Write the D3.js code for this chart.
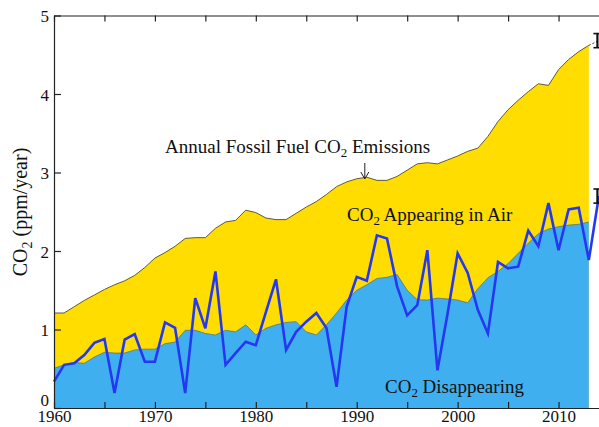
<!DOCTYPE html>
<html>
<head>
<meta charset="utf-8">
<script src="https://cdn.jsdelivr.net/npm/d3@7"></script>
<style>
  body { margin: 0; background: #fff; }
  svg text { font-family: "Liberation Serif", "Times New Roman", serif; fill: #111; }
</style>
</head>
<body>
<svg id="svg"></svg>
<script>
// years of the record
var years = [1960, 1961, 1962, 1963, 1964, 1965, 1966, 1967, 1968, 1969,
             1970, 1971, 1972, 1973, 1974, 1975, 1976, 1977, 1978, 1979,
             1980, 1981, 1982, 1983, 1984, 1985, 1986, 1987, 1988, 1989,
             1990, 1991, 1992, 1993, 1994, 1995, 1996, 1997, 1998, 1999,
             2000, 2001, 2002, 2003, 2004, 2005, 2006, 2007, 2008, 2009,
             2010, 2011, 2012, 2013, 2014];

// annual fossil fuel emissions (ppm/yr), 1960-2013
var emissions = [1.21, 1.21, 1.29, 1.37, 1.44, 1.51, 1.57, 1.62, 1.69, 1.79,
                 1.91, 1.98, 2.06, 2.16, 2.17, 2.17, 2.29, 2.37, 2.39, 2.52,
                 2.49, 2.42, 2.40, 2.40, 2.48, 2.56, 2.63, 2.72, 2.82, 2.88,
                 2.92, 2.94, 2.90, 2.90, 2.95, 3.03, 3.11, 3.125, 3.11, 3.16,
                 3.21, 3.27, 3.31, 3.46, 3.65, 3.80, 3.92, 4.03, 4.13, 4.11,
                 4.31, 4.44, 4.54, 4.62];

// top of the "disappearing" part (ppm/yr), 1960-2013
var disappearing = [0.505, 0.55, 0.58, 0.57, 0.65, 0.71, 0.70, 0.70, 0.74, 0.75,
                    0.75, 0.82, 0.84, 0.99, 0.99, 0.95, 0.93, 0.99, 0.97, 1.06,
                    0.93, 1.015, 1.06, 1.09, 1.10, 0.97, 0.93, 1.06, 1.21, 1.375,
                    1.50, 1.57, 1.65, 1.665, 1.70, 1.50, 1.38, 1.375, 1.40, 1.39,
                    1.375, 1.34, 1.52, 1.66, 1.74, 1.84, 1.97, 2.10, 2.22, 2.28,
                    2.31, 2.33, 2.34, 2.37];

// annual increase of CO2 in air (ppm/yr), 1960-2014
var appearing = [0.335, 0.55, 0.57, 0.675, 0.83, 0.88, 0.19, 0.87, 0.94, 0.59,
                 0.59, 1.09, 1.02, 0.19, 1.40, 1.015, 1.74, 0.55, 0.70, 0.845,
                 0.80, 1.22, 1.64, 0.74, 0.97, 1.10, 1.21, 1.02, 0.27, 1.29,
                 1.67, 1.62, 2.20, 2.16, 1.55, 1.18, 1.31, 2.01, 0.48, 1.20,
                 1.97, 1.72, 1.25, 0.95, 1.86, 1.78, 1.80, 2.26, 2.06, 2.61,
                 2.01, 2.53, 2.55, 1.885, 2.70];

// 2014 estimates with error bars
var errYears = [2014, 2014];
var errValues = [4.68, 2.70];
var errHalf = [0.09, 0.09];

var xTicks = [1960, 1965, 1970, 1975, 1980, 1985, 1990, 1995, 2000, 2005, 2010, 2015];
var xLabels = [1960, 1970, 1980, 1990, 2000, 2010];
var yTicks = [0, 1, 2, 3, 4, 5];

var W = 599, H = 427;
var margin = {top: 15.5, right: -10, bottom: 19, left: 54};

var svg = d3.select("#svg").attr("width", W).attr("height", H);

var xScale = d3.scaleLinear().domain([1960, 2015]).range([margin.left, W - margin.right]);
var yScale = d3.scaleLinear().domain([0, 5]).range([H - margin.bottom, margin.top]);

var emisData = emissions.map((v, i) => ({year: years[i], v: v}));
var disData = disappearing.map((v, i) => ({year: years[i], v: v}));
var appData = appearing.map((v, i) => ({year: years[i], v: v}));

var area = d3.area()
    .x(d => xScale(d.year))
    .y0(yScale(0))
    .y1(d => yScale(d.v));
var line = d3.line()
    .x(d => xScale(d.year))
    .y(d => yScale(d.v));

// yellow = emissions, blue = disappearing
svg.append("path").datum(emisData)
    .attr("fill", "#ffdd00")
    .attr("d", area);
svg.append("path").datum(emisData)
    .attr("fill", "none").attr("stroke", "#4a4a3a").attr("stroke-width", 0.9)
    .attr("d", line);

svg.append("path").datum(disData)
    .attr("fill", "#40aff0")
    .attr("d", area);
svg.append("path").datum(disData)
    .attr("fill", "none").attr("stroke", "#5a6a6a").attr("stroke-width", 0.7)
    .attr("d", line);

// dashed link from 2013 emissions to the 2014 estimate
svg.append("path")
    .datum([emisData[emisData.length - 1], {year: errYears[0], v: errValues[0]}])
    .attr("fill", "none").attr("stroke", "#222").attr("stroke-width", 0.9)
    .attr("stroke-dasharray", "2,2")
    .attr("d", line);

svg.append("path").datum(appData)
    .attr("fill", "none")
    .attr("stroke", "#2438f2")
    .attr("stroke-width", 2.6)
    .attr("stroke-linejoin", "miter")
    .attr("d", line);

// error bars
var eb = svg.append("g");
errYears.forEach((yr, i) => {
    var x = xScale(yr) - 1.5;
    var y0 = yScale(errValues[i] - errHalf[i]), y1 = yScale(errValues[i] + errHalf[i]);
    eb.append("line").attr("x1", x).attr("x2", x).attr("y1", y0).attr("y2", y1)
        .attr("stroke", "#111").attr("stroke-width", 2.2);
    eb.append("line").attr("x1", x - 4).attr("x2", x + 4).attr("y1", y0).attr("y2", y0)
        .attr("stroke", "#111").attr("stroke-width", 1.6);
    eb.append("line").attr("x1", x - 4).attr("x2", x + 4).attr("y1", y1).attr("y2", y1)
        .attr("stroke", "#111").attr("stroke-width", 1.6);
});

// axes, ticks pointing inward
var xAxisB = svg.append("g")
    .attr("transform", `translate(0, ${yScale(0)})`)
    .call(d3.axisBottom(xScale).tickValues(xTicks).tickSizeInner(-6).tickSizeOuter(0).tickPadding(3)
        .tickFormat(d => xLabels.includes(d) ? d : ""));
var xAxisT = svg.append("g")
    .attr("transform", `translate(0, ${yScale(5)})`)
    .call(d3.axisTop(xScale).tickValues(xTicks).tickSizeInner(-6).tickSizeOuter(0).tickFormat(""));
var yAxis = svg.append("g")
    .attr("transform", `translate(${margin.left}, 0)`)
    .call(d3.axisLeft(yScale).tickValues(yTicks).tickSizeInner(-7).tickSizeOuter(0).tickPadding(5)
        .tickFormat(d3.format("d")));

[xAxisB, xAxisT, yAxis].forEach(a => {
    a.selectAll("path, line").attr("stroke", "#222").attr("stroke-width", 1.2);
    a.selectAll("text").attr("font-size", 17).attr("font-family", "Liberation Serif").attr("fill", "#111");
});
xAxisB.selectAll("text").attr("dy", "0.66em");
yAxis.selectAll("text").attr("dy", "0.36em");
// the "0" sits in the corner above 1960
yAxis.selectAll(".tick").filter(d => d === 0).select("text").attr("dy", "-0.15em");

// labels with subscript 2
function co2Label(x, y, before, after, size) {
    var t = svg.append("text").attr("x", x).attr("y", y).attr("font-size", size);
    t.append("tspan").text(before + "CO");
    t.append("tspan").attr("dy", 4).attr("font-size", size * 0.68).text("2");
    t.append("tspan").attr("dy", -4).text(after);
    return t;
}
co2Label(165, 153, "Annual Fossil Fuel ", " Emissions", 19);
co2Label(347, 221, "", " Appearing in Air", 19);
co2Label(385, 393, "", " Disappearing", 19);

// arrow to the emissions curve
var ax = xScale(1990.8);
svg.append("line").attr("x1", ax).attr("x2", ax).attr("y1", 163).attr("y2", 178)
    .attr("stroke", "#222").attr("stroke-width", 1);
svg.append("path").attr("d", `M${ax - 4},${172} L${ax},${179} L${ax + 4},${172}`)
    .attr("fill", "none").attr("stroke", "#222").attr("stroke-width", 1);

// y title
var yt = svg.append("text")
    .attr("transform", "translate(27, 212) rotate(-90)")
    .attr("text-anchor", "middle").attr("font-size", 20);
yt.append("tspan").text("CO");
yt.append("tspan").attr("dy", 5).attr("font-size", 14).text("2");
yt.append("tspan").attr("dy", -5).text(" (ppm/year)");
</script>
</body>
</html>
